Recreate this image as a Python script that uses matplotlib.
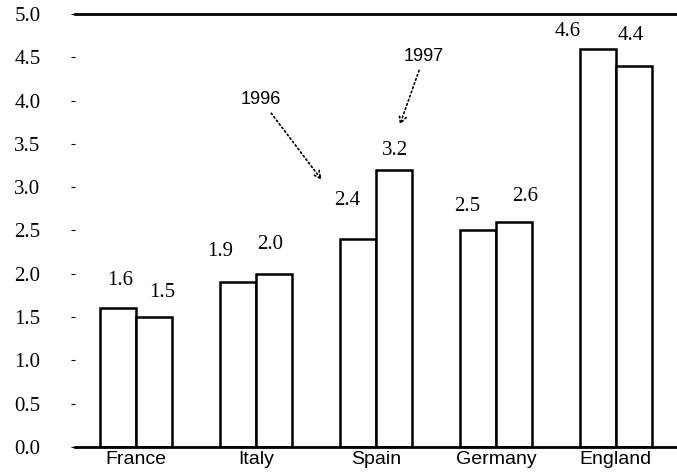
import numpy as np
import matplotlib.pyplot as plt

# data
countries = ['France', 'Italy', 'Spain', 'Germany', 'England']
y1996 = [1.6, 1.9, 2.4, 2.5, 4.6]
y1997 = [1.5, 2.0, 3.2, 2.6, 4.4]
yticks = [0.0, 0.5, 1.0, 1.5, 2.0, 2.5, 3.0, 3.5, 4.0, 4.5, 5.0]

# label nudges (points), the scanned original places them unevenly
off1996 = [(1, 20), (-13, 22), (-8, 28), (-8, 17), (-22, 12)]
off1997 = [(6, 18), (-3, 21), (1, 14), (8, 18), (-2, 22)]

x = np.arange(len(countries))
w = 0.3

fig = plt.figure(figsize=(6.77, 4.75), dpi=100)
ax = fig.add_axes([0.111, 0.059, 0.889, 0.9115])

b1 = ax.bar(x - w/2, y1996, w, facecolor='white', edgecolor='black', linewidth=1.8)
b2 = ax.bar(x + w/2, y1997, w, facecolor='white', edgecolor='black', linewidth=1.8)

# value labels above each bar
for bars, vals, offs in [(b1, y1996, off1996), (b2, y1997, off1997)]:
    for b, v, o in zip(bars, vals, offs):
        ax.annotate('%.1f' % v, (b.get_x() + b.get_width()/2, v),
                    xytext=o, textcoords='offset points',
                    ha='center', va='center', fontsize=15, family='Liberation Serif')

# year annotations with dotted arrows
ax.annotate('1996', xy=(1.56, 3.06), xytext=(1.04, 4.01),
            fontsize=13, family='Liberation Sans', ha='center', va='center',
            arrowprops=dict(arrowstyle='->', linestyle=':', color='black', lw=1.2))
ax.annotate('1997', xy=(2.19, 3.69), xytext=(2.40, 4.51),
            fontsize=13, family='Liberation Sans', ha='center', va='center',
            arrowprops=dict(arrowstyle='->', linestyle=':', color='black', lw=1.2))

ax.set_xlim(-0.51, 4.51)
ax.set_ylim(0, 5.0)
ax.set_xticks(x)
ax.set_xticklabels(countries, fontsize=14, family='Liberation Sans')
ax.set_yticks(yticks)
ax.set_yticklabels(['%.1f' % t for t in yticks], fontsize=15, family='Liberation Serif')
ax.tick_params(axis='x', length=0, pad=3)
ax.tick_params(axis='y', length=3, pad=22)

ax.spines['left'].set_visible(False)
ax.spines['right'].set_visible(False)
ax.spines['top'].set_linewidth(2)
ax.spines['bottom'].set_linewidth(2)

fig.savefig('out.png', dpi=100)
